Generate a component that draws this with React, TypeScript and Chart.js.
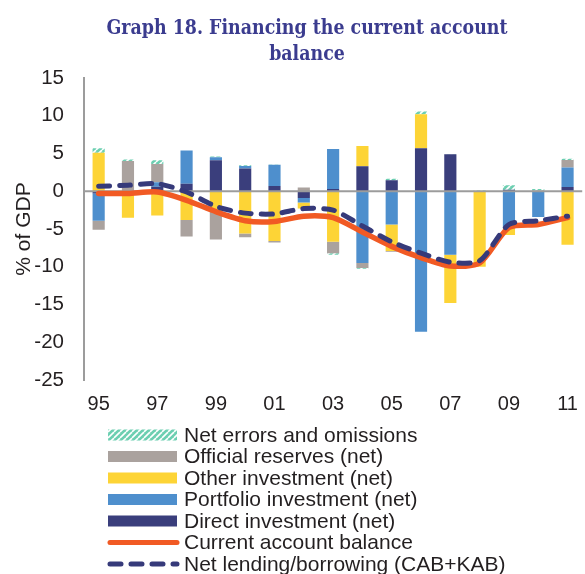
import { useEffect, useRef } from 'react';
import { Chart, registerables } from 'chart.js';

Chart.register(...registerables);

// ---- data (years 1995..2011, % of GDP) ----
const years = ['95', '96', '97', '98', '99', '00', '01', '02', '03', '04', '05', '06', '07', '08', '09', '10', '11'];
const yearTicks = ['95', '', '97', '', '99', '', '01', '', '03', '', '05', '', '07', '', '09', '', '11'];
const directInvestment = [-0.3, 0, 0.6, 1.0, 4.1, 3.0, 0.7, -0.9, 0.3, 3.3, 1.45, 5.7, 4.9, 0, 0.2, 0, 0.55];
const portfolioInvestment = [-3.6, 0, 0.6, 4.4, 0.4, 0.35, 2.8, -0.6, 5.3, -9.5, -4.4, -18.6, -8.4, 0, -4.9, -3.4, 2.6];
const otherInvestment = [5.1, -3.5, -3.2, -3.8, -2.7, -5.6, -6.6, -0.8, -6.7, 2.7, -3.5, 4.5, -6.4, -10.0, -0.9, 0, -7.1];
const officialReserves = [-1.2, 4.0, 2.4, -2.2, -3.7, -0.5, -0.2, 0.5, -1.5, -0.65, -0.1, 0, 0, 0, 0, 0.1, 1.0];
const netErrors = [0.6, 0.2, 0.5, 0, 0.1, 0.1, 0.05, 0, -0.2, -0.1, 0.2, 0.35, 0.05, 0.1, 0.6, 0.2, 0.15];
const currentAccount = [-0.3, -0.3, -0.1, -1.2, -2.7, -3.9, -4.0, -3.3, -3.5, -5.4, -7.3, -8.8, -9.9, -9.5, -4.8, -4.4, -3.5];
const netLending = [0.65, 0.8, 1.0, -0.1, -2.0, -2.9, -3.0, -2.3, -2.5, -4.6, -6.7, -8.2, -9.4, -9.2, -4.4, -3.9, -3.3];
const yTicks = { min: -25, max: 15, step: 5 };

const titleLines = ['Graph 18. Financing the current account', 'balance'];
const yAxisTitle = '% of GDP';
const L_ERR = 'Net errors and omissions';
const L_RES = 'Official reserves (net)';
const L_OTH = 'Other investment (net)';
const L_POR = 'Portfolio investment (net)';
const L_DIR = 'Direct investment (net)';
const L_CAB = 'Current account balance';
const L_NLB = 'Net lending/borrowing (CAB+KAB)';
const legendOrder = [L_ERR, L_RES, L_OTH, L_POR, L_DIR, L_CAB, L_NLB];

// ---- styles ----
const C_DIR = '#3a3e7c';
const C_POR = '#4e8fcd';
const C_OTH = '#fdd436';
const C_RES = '#aaa29e';
const C_ERR = '#6ccfb1';
const C_CAB = '#f15a24';
const C_NLB = '#363a7a';
const C_AXIS = '#9c9c9c';
const C_TEXT = '#231f20';
const C_TITLE = '#3b3c8f';
const SANS = '"Liberation Sans", Arial, sans-serif';

export default function App() {
  const ref = useRef<HTMLCanvasElement>(null);

  useEffect(() => {
    document.body.style.margin = '0';
    const canvas = ref.current;
    if (!canvas) return;
    const mainCtx = canvas.getContext('2d')!;

    const pc = document.createElement('canvas');
    pc.width = 6;
    pc.height = 6;
    const p = pc.getContext('2d')!;
    p.fillStyle = C_ERR;
    p.fillRect(0, 0, 6, 6);
    p.strokeStyle = '#ffffff';
    p.lineWidth = 1.6;
    for (const o of [-6, 0, 6]) {
      p.beginPath();
      p.moveTo(o, 6);
      p.lineTo(o + 6, 0);
      p.stroke();
    }
    const hatch = mainCtx.createPattern(pc, 'repeat') || C_ERR;

    const decor = {
      id: 'decor',
      afterDatasetDraw(chart: any, args: any) {
        if (chart.data.datasets[args.index].label !== L_DIR) return;
        const ctx = chart.ctx;
        const y = chart.scales.y.getPixelForValue(0);
        const { left, right } = chart.chartArea;
        ctx.save();
        ctx.strokeStyle = C_AXIS;
        ctx.lineWidth = 2;
        ctx.beginPath();
        ctx.moveTo(left, y);
        ctx.lineTo(right, y);
        ctx.stroke();
        ctx.restore();
      },
      afterDraw(chart: any) {
        const ctx = chart.ctx;
        ctx.save();
        // title (slightly condensed serif, centred at x=307)
        const size = 19.5;
        ctx.font = `bold ${size}px "DejaVu Serif", serif`;
        const w = ctx.measureText(titleLines[0]).width;
        const sx = Math.min(1, 401 / w);
        ctx.fillStyle = C_TITLE;
        ctx.textAlign = 'center';
        ctx.textBaseline = 'middle';
        titleLines.forEach((t, i) => {
          ctx.save();
          ctx.translate(307, 29 + i * 26);
          ctx.scale(sx, 1);
          ctx.fillText(t, 0, 0);
          ctx.restore();
        });

        // legend
        ctx.textAlign = 'left';
        ctx.textBaseline = 'middle';
        ctx.font = `21px ${SANS}`;
        legendOrder.forEach((label, i) => {
          const ds = chart.data.datasets.find((d: any) => d.label === label);
          if (!ds) return;
          const cy = 435 + i * 21.5;
          const x0 = 108;
          const sw = 69;
          if (ds.type === 'line') {
            ctx.strokeStyle = ds.borderColor;
            ctx.lineWidth = 5;
            ctx.lineCap = 'round';
            ctx.setLineDash(ds.borderDash || []);
            ctx.beginPath();
            ctx.moveTo(x0 + 2, cy);
            ctx.lineTo(x0 + sw, cy);
            ctx.stroke();
            ctx.setLineDash([]);
          } else {
            ctx.fillStyle = ds.backgroundColor;
            ctx.fillRect(x0, cy - 5.5, sw, 11);
          }
          ctx.fillStyle = C_TEXT;
          ctx.fillText(label, 184, cy + 1);
        });
        ctx.restore();
      },
    };

    const barBase = {
      type: 'bar' as const,
      stack: 'bop',
      barPercentage: 0.415,
      categoryPercentage: 1,
      borderWidth: 0,
      order: 0,
    };

    const chart = new Chart(canvas, {
      type: 'bar',
      data: {
        labels: years,
        datasets: [
          {
            type: 'line',
            label: L_NLB,
            data: netLending,
            borderColor: C_NLB,
            borderWidth: 5,
            borderDash: [11, 10],
            borderCapStyle: 'round',
            borderJoinStyle: 'round',
            pointRadius: 0,
            fill: false,
            tension: 0.25,
            stack: 'nlb',
            order: -2,
          } as any,
          {
            type: 'line',
            label: L_CAB,
            data: currentAccount,
            borderColor: C_CAB,
            borderWidth: 5.5,
            borderCapStyle: 'round',
            borderJoinStyle: 'round',
            pointRadius: 0,
            fill: false,
            tension: 0.25,
            stack: 'cab',
            order: -1,
          } as any,
          { ...barBase, label: L_DIR, data: directInvestment, backgroundColor: C_DIR },
          { ...barBase, label: L_POR, data: portfolioInvestment, backgroundColor: C_POR },
          { ...barBase, label: L_OTH, data: otherInvestment, backgroundColor: C_OTH },
          { ...barBase, label: L_RES, data: officialReserves, backgroundColor: C_RES },
          { ...barBase, label: L_ERR, data: netErrors, backgroundColor: hatch as any },
        ],
      },
      options: {
        responsive: false,
        animation: false,
        layout: { padding: { top: 78, bottom: 154, left: 0, right: 2 } },
        plugins: {
          legend: { display: false },
          title: { display: false },
          tooltip: { enabled: false },
        },
        scales: {
          x: {
            stacked: true,
            grid: { display: false, drawTicks: false },
            border: { display: false },
            ticks: {
              autoSkip: false,
              maxRotation: 0,
              padding: 12,
              color: C_TEXT,
              font: { family: SANS, size: 20 },
              callback: (_v: any, i: number) => yearTicks[i],
            },
            afterFit: (s: any) => {
              s.height = 40;
            },
          },
          y: {
            stacked: true,
            min: yTicks.min,
            max: yTicks.max,
            grid: { display: false, drawTicks: false },
            border: { display: true, color: C_AXIS, width: 2 },
            ticks: {
              stepSize: yTicks.step,
              padding: 20,
              color: C_TEXT,
              font: { family: SANS, size: 20.5 },
            },
            title: {
              display: true,
              text: yAxisTitle,
              color: C_TEXT,
              font: { family: SANS, size: 21 },
              padding: { top: 12, bottom: 0 },
            },
            afterFit: (s: any) => {
              s.width = 84;
            },
          },
        },
      },
      plugins: [decor],
    });

    return () => chart.destroy();
  }, []);

  return (
    <div style={{ width: 585, height: 574, overflow: 'hidden', position: 'relative', background: '#fff' }}>
      <canvas ref={ref} width={590} height={574} style={{ display: 'block' }} />
    </div>
  );
}
